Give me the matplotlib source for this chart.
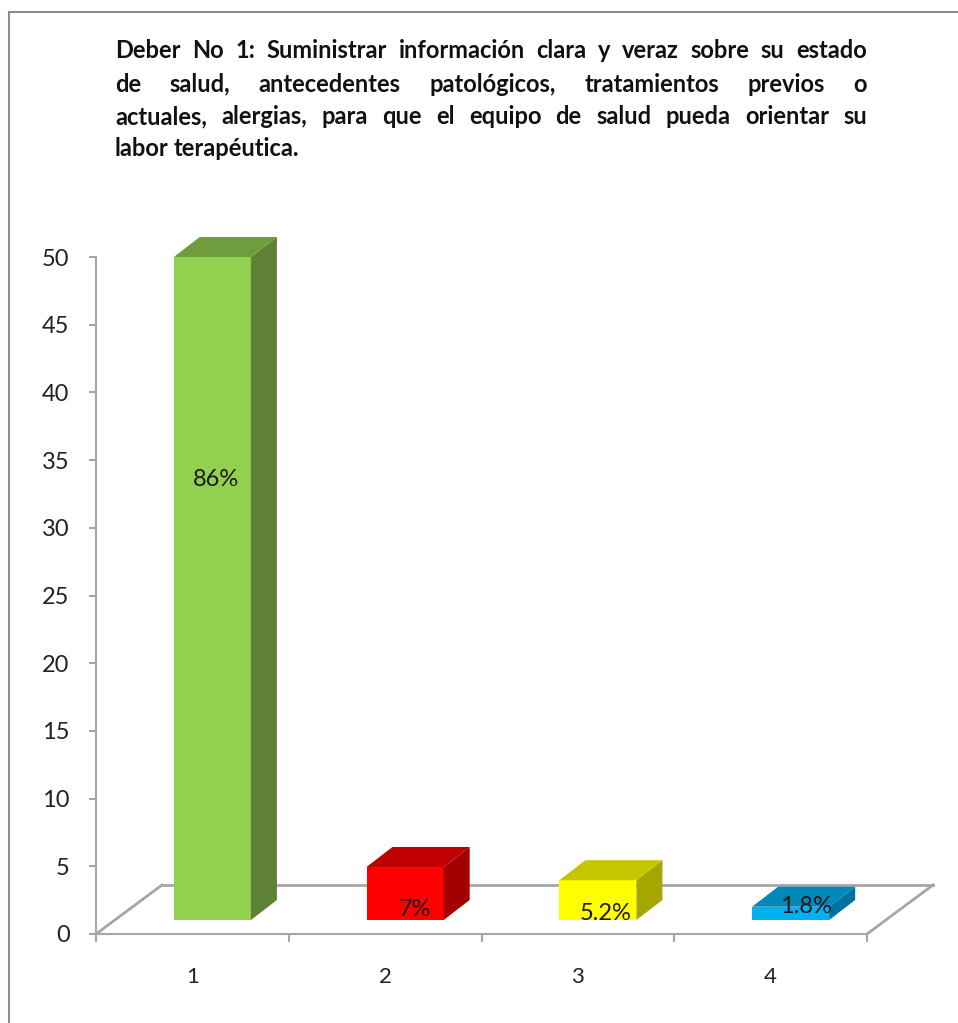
import matplotlib
matplotlib.use("Agg")
import matplotlib.pyplot as plt
import matplotlib.transforms as mtrans
from matplotlib.lines import Line2D
from matplotlib.patches import Polygon

W, H = 958, 1023

categories = [1, 2, 3, 4]
values = [50, 4, 3, 1]
labels = ["86%", "7%", "5.2%", "1.8%"]
front_cols = ["#92D050", "#FF0000", "#FFFF00", "#00B0F0"]
side_cols = ["#5F8135", "#A50000", "#A6A600", "#0072A0"]
top_cols = ["#6F9C3C", "#C00000", "#C6C600", "#0088B8"]
yticks = list(range(0, 55, 5))
title_lines = [
    "Deber No 1: Suministrar información clara y veraz sobre su estado",
    "de salud, antecedentes patológicos, tratamientos previos o",
    "actuales, alergias, para que el equipo de salud pueda orientar su",
    "labor terapéutica.",
]

GRAY = "#A6A6A6"
plt.rcParams["font.family"] = ["Lato", "DejaVu Sans"]

fig = plt.figure(figsize=(W / 100, H / 100), dpi=100)
ax = fig.add_axes([96 / W, 1 - 934 / H, (867 - 96) / W, (934 - 257) / H])
ax.set_xlim(0.5, 4.5)
ax.set_ylim(0, 50)
ax.patch.set_visible(False)

for s in ["top", "right"]:
    ax.spines[s].set_visible(False)
for s in ["left", "bottom"]:
    ax.spines[s].set_color(GRAY)
    ax.spines[s].set_linewidth(1.5)

ax.set_yticks(yticks)
ax.set_xticks([0.5, 1.5, 2.5, 3.5, 4.5])
ax.set_xticklabels([])
ax.set_xticks(categories, minor=True)
ax.set_xticklabels([str(c) for c in categories], minor=True)
ax.tick_params(axis="y", length=5, width=1.5, color=GRAY, labelsize=17, labelcolor="#222222", pad=14)
ax.tick_params(axis="x", which="major", length=6, width=1.5, color=GRAY)
ax.tick_params(axis="x", which="minor", length=0, labelsize=16, labelcolor="#222222", pad=24)


def shifted(dx, dy):
    # data coordinates moved by some pixels, for the fake 3d look
    return ax.transData + mtrans.Affine2D().translate(dx, dy)


# floor of the chart, drawn behind the bars
floor_dx, floor_dy = 66, 49
ax.plot([0.5, 4.5], [0, 0], color=GRAY, lw=2, transform=shifted(floor_dx, floor_dy), clip_on=False, zorder=1)
for xe in [0.5, 4.5]:
    base = ax.transData.transform((xe, 0))
    fig.add_artist(Line2D(
        [base[0] / W, (base[0] + floor_dx) / W],
        [base[1] / H, (base[1] + floor_dy) / H],
        color=GRAY, lw=2, zorder=1))

# bars: front face sits right of and above the axis plane
bar_w = 0.4
dep_x, dep_y = 26, 20
front = shifted(20, 14)
yscale = 663 / 677
for c, v, f, sc, tc in zip(categories, values, front_cols, side_cols, top_cols):
    h = v * yscale
    ax.bar(c, h, width=bar_w, color=f, transform=front, clip_on=False, zorder=3)
    x0, y0 = front.transform((c - bar_w / 2, 0))
    x1, y1 = front.transform((c + bar_w / 2, h))
    ax.add_patch(Polygon([(x1, y0), (x1 + dep_x, y0 + dep_y), (x1 + dep_x, y1 + dep_y), (x1, y1)],
                         closed=True, facecolor=sc, edgecolor="none",
                         transform=mtrans.IdentityTransform(), clip_on=False, zorder=3))
    ax.add_patch(Polygon([(x0, y1), (x0 + dep_x, y1 + dep_y), (x1 + dep_x, y1 + dep_y), (x1, y1)],
                         closed=True, facecolor=tc, edgecolor="none",
                         transform=mtrans.IdentityTransform(), clip_on=False, zorder=3))

# value labels, offsets in pixels from the top of the front face
label_off = [(4, -222), (10, -43), (8, -33), (15, 0)]
for c, v, t, off in zip(categories, values, labels, label_off):
    ax.annotate(t, xy=(c, v * yscale), xycoords=front, xytext=(off[0] * 0.72, off[1] * 0.72),
                textcoords="offset points", ha="center", va="center",
                fontsize=17, color="#1a1a1a", zorder=5)

# outer frame of the picture, only left and top show
fig.add_artist(Line2D([9 / W, 9 / W], [0, 1 - 12 / H], color="#8C8C8C", lw=1.5))
fig.add_artist(Line2D([9 / W, 1], [1 - 12 / H, 1 - 12 / H], color="#8C8C8C", lw=1.5))

# justified title, each word placed by hand since matplotlib cant justify
left, right = 115, 867
line_y = [51, 84, 117, 149]
renderer = fig.canvas.get_renderer()
for i, (line, py) in enumerate(zip(title_lines, line_y)):
    words = line.split(" ")
    arts = [fig.text(0, 1 - py / H, w, fontsize=17, fontweight="bold", va="center", color="#111111") for w in words]
    widths = [a.get_window_extent(renderer).width for a in arts]
    if i < len(title_lines) - 1:
        gap = (right - left - sum(widths)) / (len(words) - 1)
    else:
        gap = 5
    x = left
    for a, w in zip(arts, widths):
        a.set_x(x / W)
        x += w + gap

fig.savefig("out.png", dpi=100, facecolor="white")
